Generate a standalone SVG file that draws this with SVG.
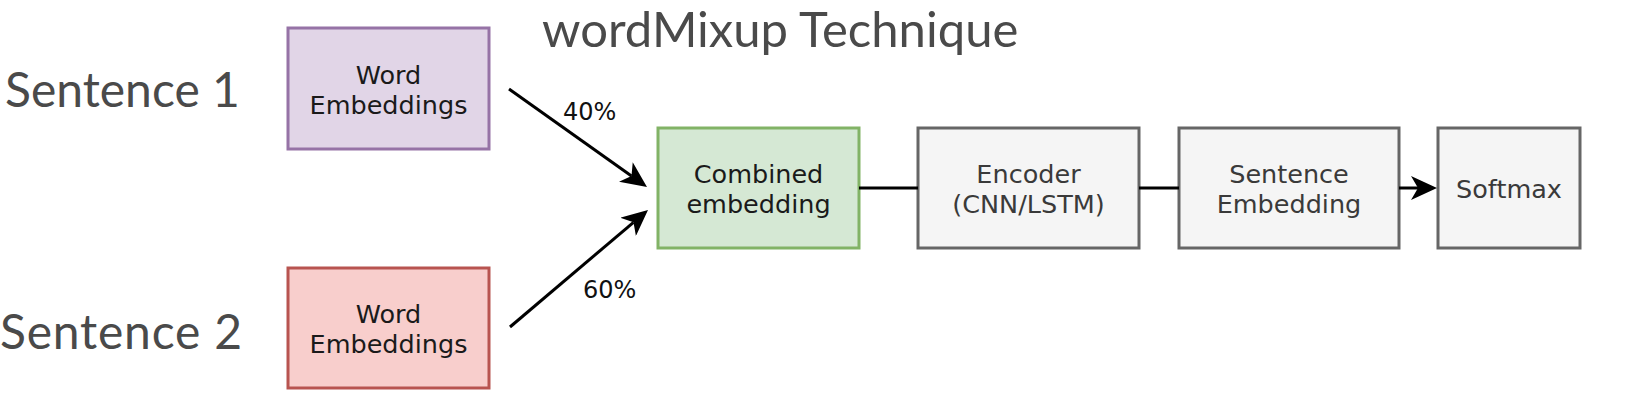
<svg xmlns="http://www.w3.org/2000/svg" width="1636" height="408" viewBox="0 0 1636 408">
<style>
.big{font-family:Lato,"Liberation Sans",sans-serif;font-size:48px;fill:#4a4a4a}
.lbl{font-family:"DejaVu Sans","Liberation Sans",sans-serif;font-size:25.5px;text-anchor:middle}
.dark{fill:#1a1a1a}
.gray{fill:#3a3a3a}
.pct{font-family:"DejaVu Sans","Liberation Sans",sans-serif;font-size:24px;fill:#111}
.box{stroke-width:3}
.g{fill:#f5f5f5;stroke:#666666}
.con{fill:none;stroke:#000;stroke-width:3}
</style>
<defs>
<marker id="ah" viewBox="0 0 26 24" refX="7" refY="12" markerWidth="26" markerHeight="24" markerUnits="userSpaceOnUse" orient="auto">
<path d="M0,0 L26,12 L0,24 L7,12 z" fill="#000"/>
</marker>
</defs>
<rect width="1636" height="408" fill="#ffffff"/>
<g id="title"><text class="big" x="542" y="47" style="font-size:49px">wordMixup Technique</text></g>
<g id="sentence1"><text class="big" x="5" y="107">Sentence 1</text></g>
<g id="sentence2"><text class="big" x="0" y="349" style="letter-spacing:0.8px">Sentence 2</text></g>
<g id="we1">
<rect class="box" x="288" y="28" width="201" height="121" fill="#e1d5e7" stroke="#9673a6"/>
<text class="lbl dark" x="388.5" y="84">Word</text>
<text class="lbl dark" x="388.5" y="114">Embeddings</text>
</g>
<g id="we2">
<rect class="box" x="288" y="268" width="201" height="120" fill="#f8cecc" stroke="#b85450"/>
<text class="lbl dark" x="388.5" y="323">Word</text>
<text class="lbl dark" x="388.5" y="353">Embeddings</text>
</g>
<g id="combined">
<rect class="box" x="658" y="128" width="201" height="120" fill="#d5e8d4" stroke="#82b366"/>
<text class="lbl dark" x="758.5" y="183">Combined</text>
<text class="lbl dark" x="758.5" y="213">embedding</text>
</g>
<g id="encoder">
<rect class="box g" x="918" y="128" width="221" height="120"/>
<text class="lbl gray" x="1028.5" y="183">Encoder</text>
<text class="lbl gray" x="1028.5" y="213">(CNN/LSTM)</text>
</g>
<g id="sentemb">
<rect class="box g" x="1179" y="128" width="220" height="120"/>
<text class="lbl gray" x="1289" y="183">Sentence</text>
<text class="lbl gray" x="1289" y="213">Embedding</text>
</g>
<g id="softmax">
<rect class="box g" x="1438" y="128" width="142" height="120"/>
<text class="lbl gray" x="1509" y="198">Softmax</text>
</g>
<g id="connectors">
<path class="con" d="M509,89 L631.5,176" marker-end="url(#ah)"/>
<path class="con" d="M510,327 L633.5,222.3" marker-end="url(#ah)"/>
<path class="con" d="M859,188 L918,188"/>
<path class="con" d="M1139,188 L1179,188"/>
<path class="con" d="M1399,188 L1418,188" marker-end="url(#ah)"/>
<text class="pct" x="563" y="120">40%</text>
<text class="pct" x="583" y="298">60%</text>
</g>
</svg>
